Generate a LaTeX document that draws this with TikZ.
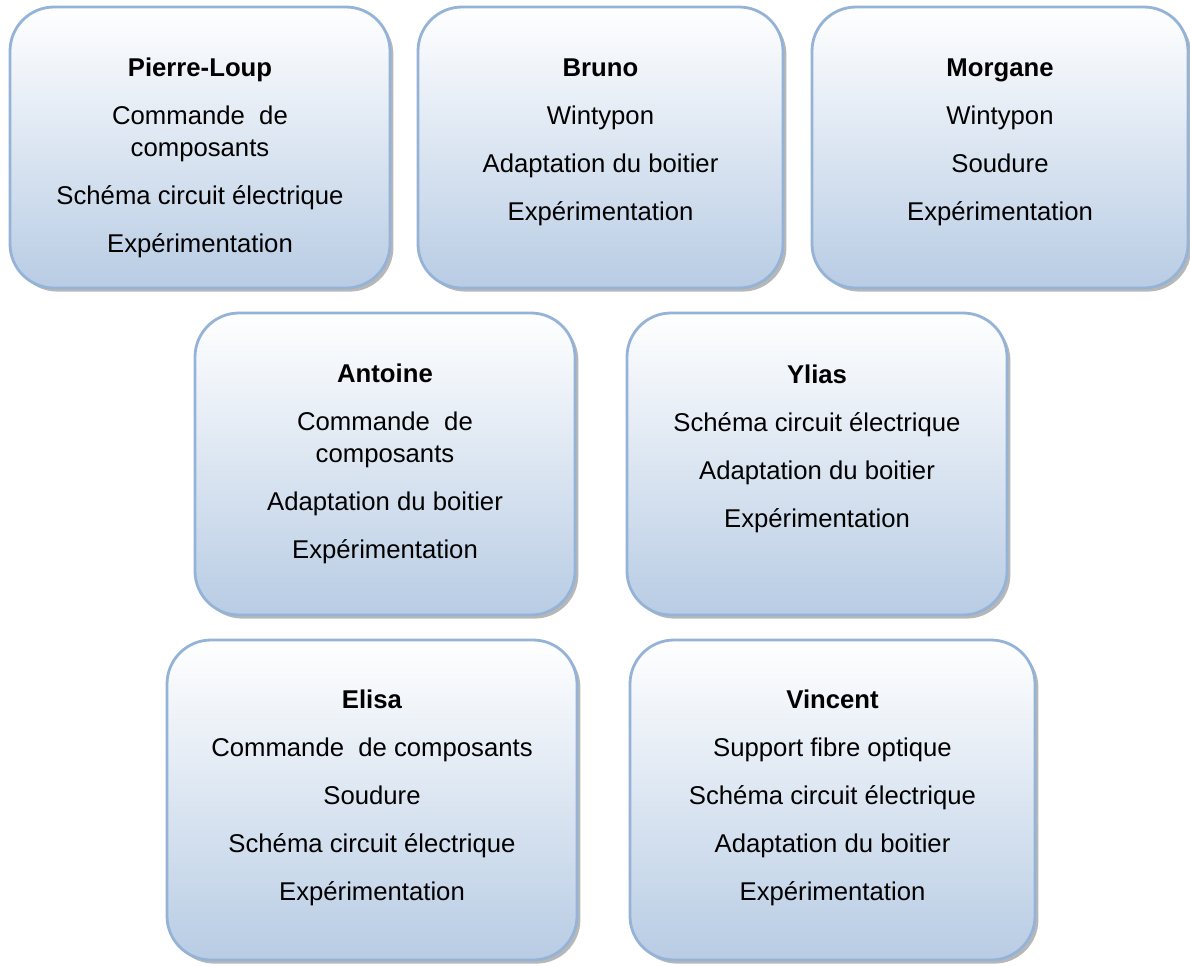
\documentclass[tikz,border=0pt]{standalone}
\usepackage{fontspec}
\setmainfont{Liberation Sans}
\usetikzlibrary{shadows}
\definecolor{cardborder}{RGB}{149,179,215}
\definecolor{cardfill}{RGB}{184,204,228}
\tikzset{
  card/.style={draw=cardborder, line width=1.4pt, rounded corners=22pt,
    top color=white, bottom color=cardfill, shading angle=0,
    drop shadow={shadow xshift=1.7pt, shadow yshift=-1.8pt, fill=black!70, opacity=0.4},
    inner sep=0pt, outer sep=0pt},
  cardtext/.style={align=center, anchor=base, inner sep=0pt,
    font=\fontsize{12.85}{16}\selectfont}
}
\newcommand{\pgap}{\\[8pt]}
\begin{document}
\begin{tikzpicture}[x=0.5pt,y=-0.5pt]
\useasboundingbox (0,0) rectangle (1190,965);
% row 1
\node[card, minimum width=190pt, minimum height=140.5pt] (pl) at (200,147.5) {};
\node[card, minimum width=182.5pt, minimum height=140.5pt] (br) at (600.5,147.5) {};
\node[card, minimum width=188pt, minimum height=140.5pt] (mo) at (1000,147.5) {};
% row 2
\node[card, minimum width=190pt, minimum height=151pt] (an) at (385,464) {};
\node[card, minimum width=190pt, minimum height=151pt] (yl) at (817,464) {};
% row 3
\node[card, minimum width=205pt, minimum height=160pt] (el) at (372,800) {};
\node[card, minimum width=202.5pt, minimum height=160pt] (vi) at (832.5,800) {};
% texts (anchored at the baseline of their last line)
\node[cardtext] (plt) at ([yshift=-122.5pt]pl.north) {\textbf{Pierre-Loup}\pgap Commande \ de\\composants\pgap Schéma circuit électrique\pgap Expérimentation};
\node[cardtext] (brt) at ([yshift=-106.5pt]br.north) {\textbf{Bruno}\pgap Wintypon\pgap Adaptation du boitier\pgap Expérimentation};
\node[cardtext] (mot) at ([yshift=-106.5pt]mo.north) {\textbf{Morgane}\pgap Wintypon\pgap Soudure\pgap Expérimentation};
\node[cardtext] (ant) at ([yshift=-122.5pt]an.north) {\textbf{Antoine}\pgap Commande \ de\\composants\pgap Adaptation du boitier\pgap Expérimentation};
\node[cardtext] (ylt) at ([yshift=-107pt]yl.north) {\textbf{Ylias}\pgap Schéma circuit électrique\pgap Adaptation du boitier\pgap Expérimentation};
\node[cardtext] (elt) at ([yshift=-130pt]el.north) {\textbf{Elisa}\pgap Commande \ de composants\pgap Soudure\pgap Schéma circuit électrique\pgap Expérimentation};
\node[cardtext] (vit) at ([yshift=-130pt]vi.north) {\textbf{Vincent}\pgap Support fibre optique\pgap Schéma circuit électrique\pgap Adaptation du boitier\pgap Expérimentation};
\end{tikzpicture}
\end{document}
